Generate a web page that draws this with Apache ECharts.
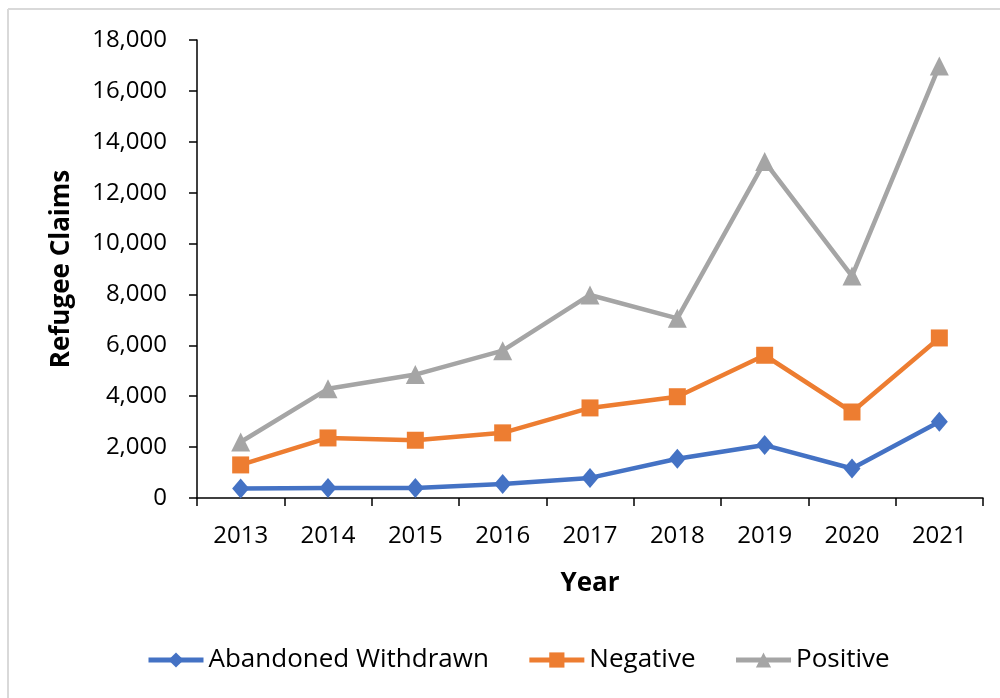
<!DOCTYPE html>
<html>
<head>
<meta charset="utf-8">
<script src="https://cdn.jsdelivr.net/npm/echarts@6/dist/echarts.min.js"></script>
<style>html,body{margin:0;padding:0;background:#fff}#c{width:1000px;height:698px}</style>
</head>
<body>
<div id="c"></div>
<script>
const years = ['2013','2014','2015','2016','2017','2018','2019','2020','2021'];
const abandonedWithdrawn = [370, 390, 390, 550, 790, 1540, 2080, 1160, 3000];
const negative = [1300, 2360, 2270, 2560, 3540, 3980, 5610, 3380, 6290];
const positive = [2200, 4290, 4850, 5790, 7980, 7060, 13220, 8720, 16980];
const seriesNames = ['Abandoned Withdrawn', 'Negative', 'Positive'];

const FONT = 'Open Sans';
const chart = echarts.init(document.getElementById('c'));
const mk = (name, data, color, symbol, size) => ({
  name, type: 'line', data,
  symbol, symbolSize: size,
  lineStyle: { color, width: 4.5 },
  itemStyle: { color },
  emphasis: { disabled: true },
  animation: false
});
chart.setOption({
  animation: false,
  backgroundColor: '#fff',
  textStyle: { fontFamily: FONT },
  grid: { left: 197, right: 17, top: 40, bottom: 200, containLabel: false },
  legend: {
    bottom: 20, left: 141,
    itemWidth: 55, itemHeight: 19, itemGap: 38,
    lineStyle: { width: 5 },
    textStyle: { fontSize: 26, color: '#000', fontFamily: FONT },
    data: seriesNames
  },
  xAxis: {
    type: 'category', data: years, boundaryGap: true,
    name: 'Year', nameLocation: 'middle', nameGap: 73,
    nameTextStyle: { fontSize: 26, fontWeight: 'bold', color: '#000', fontFamily: FONT },
    axisLine: { lineStyle: { color: '#000', width: 1.5 } },
    axisTick: { show: true, length: 8, interval: 0, lineStyle: { color: '#000', width: 1.5 } },
    axisLabel: { fontSize: 24, color: '#000', margin: 26, interval: 0, fontFamily: FONT },
    splitLine: { show: false }
  },
  yAxis: {
    type: 'value', min: 0, max: 18000, interval: 2000,
    name: 'Refugee Claims', nameLocation: 'middle', nameGap: 122, nameRotate: 90,
    nameTextStyle: { fontSize: 26, fontWeight: 'bold', color: '#000', fontFamily: FONT },
    axisLine: { show: true, lineStyle: { color: '#000', width: 1.5 } },
    axisTick: { show: true, length: 8, lineStyle: { color: '#000', width: 1.5 } },
    axisLabel: { fontSize: 24, color: '#000', margin: 30, fontFamily: FONT,
      formatter: v => v.toLocaleString('en-US') },
    splitLine: { show: false }
  },
  graphic: [
    { type: 'line', shape: { x1: 8, y1: 9, x2: 1000, y2: 9 }, style: { stroke: '#d9d9d9', lineWidth: 2 }, silent: true },
    { type: 'line', shape: { x1: 8, y1: 9, x2: 8, y2: 698 }, style: { stroke: '#d9d9d9', lineWidth: 2 }, silent: true }
  ],
  series: [
    mk(seriesNames[0], abandonedWithdrawn, '#4472C4', 'diamond', [17, 20]),
    mk(seriesNames[1], negative, '#ED7D31', 'rect', 17),
    mk(seriesNames[2], positive, '#A5A5A5', 'triangle', 19)
  ]
});
</script>
</body>
</html>
